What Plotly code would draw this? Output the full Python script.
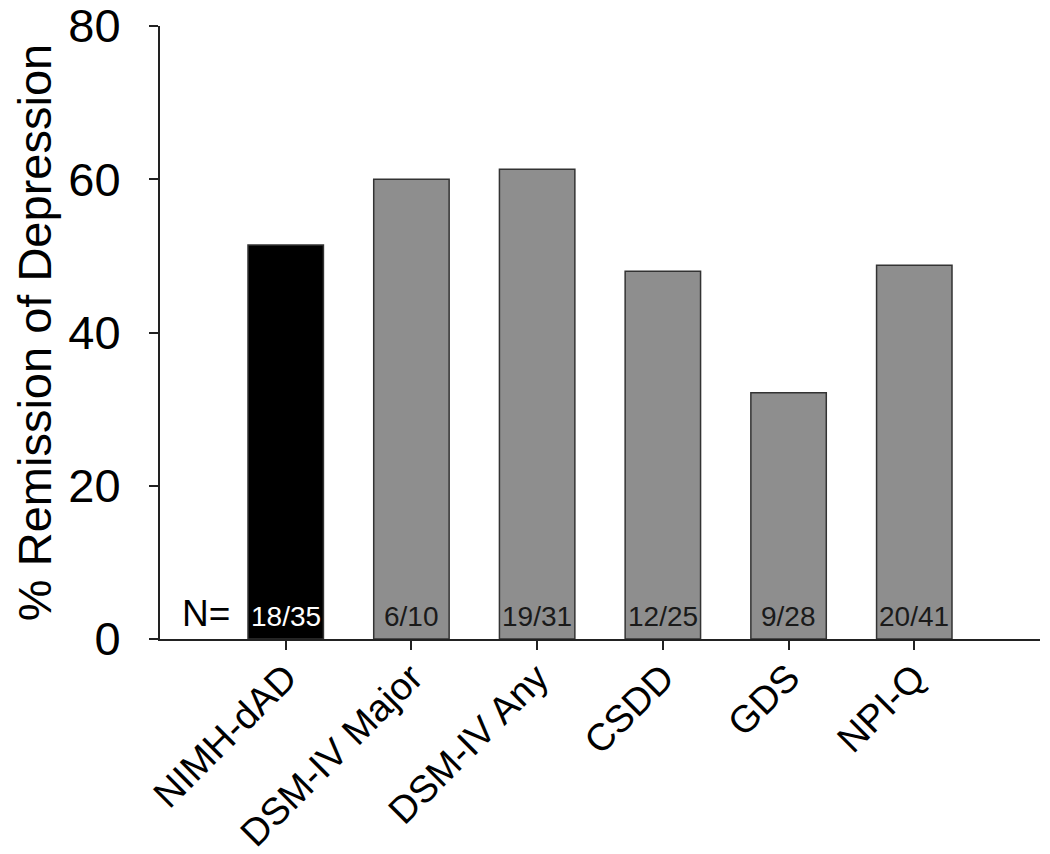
import plotly.graph_objects as go

# data
measures = ["NIMH-dAD", "DSM-IV Major", "DSM-IV Any", "CSDD", "GDS", "NPI-Q"]
remitted = [18, 6, 19, 12, 9, 20]
totals = [35, 10, 31, 25, 28, 41]
remission_pct = [100.0 * r / t for r, t in zip(remitted, totals)]
n_labels = ["%d/%d" % (r, t) for r, t in zip(remitted, totals)]
y_ticks = [0, 20, 40, 60, 80]

FONT = "Liberation Sans, Arial, sans-serif"
bar_colors = ["#000000"] + ["#8e8e8e"] * (len(measures) - 1)
text_colors = ["#ffffff"] + ["#1a1a1a"] * (len(measures) - 1)

fig = go.Figure()
fig.add_trace(go.Bar(
    x=measures,
    y=remission_pct,
    width=0.6,
    marker=dict(color=bar_colors, line=dict(color="#333333", width=1.5)),
    hoverinfo="x+y",
))

# counts inside bars, at the base
for m, lab, c in zip(measures, n_labels, text_colors):
    fig.add_annotation(
        x=m, y=0, xref="x", yref="y",
        text=lab, showarrow=False,
        yanchor="bottom", yshift=5,
        font=dict(family=FONT, size=28, color=c),
    )

fig.add_annotation(
    x=measures[0], y=0, xref="x", yref="y",
    text="N=", showarrow=False,
    xanchor="right", xshift=-54,
    yanchor="bottom", yshift=3,
    font=dict(family=FONT, size=37, color="#000000"),
)

# page body adds an 8px offset, margins compensate
fig.update_layout(
    width=1050, height=854,
    margin=dict(l=152, r=18, t=18, b=223),
    plot_bgcolor="white",
    paper_bgcolor="white",
    showlegend=False,
    font=dict(family=FONT, color="#000000"),
    xaxis=dict(
        range=[-1, 6],
        automargin=False,
        showline=True, linecolor="#222222", linewidth=2,
        ticks="outside", ticklen=9, tickwidth=2, tickcolor="#222222",
        tickangle=-45,
        ticklabelstandoff=-10,
        tickfont=dict(family=FONT, size=38, color="#000000"),
        showgrid=False, zeroline=False,
    ),
    yaxis=dict(
        range=[0, 80],
        automargin=False,
        tickvals=y_ticks,
        showline=True, linecolor="#222222", linewidth=2,
        ticks="outside", ticklen=9, tickwidth=2, tickcolor="#222222",
        ticklabelstandoff=19,
        ticklabeloverflow="allow",
        tickfont=dict(family=FONT, size=47, color="#000000"),
        title=dict(text="% Remission of Depression",
                   font=dict(family=FONT, size=47, color="#000000"),
                   standoff=27),
        showgrid=False, zeroline=False,
    ),
)

fig.write_html("out.html")
